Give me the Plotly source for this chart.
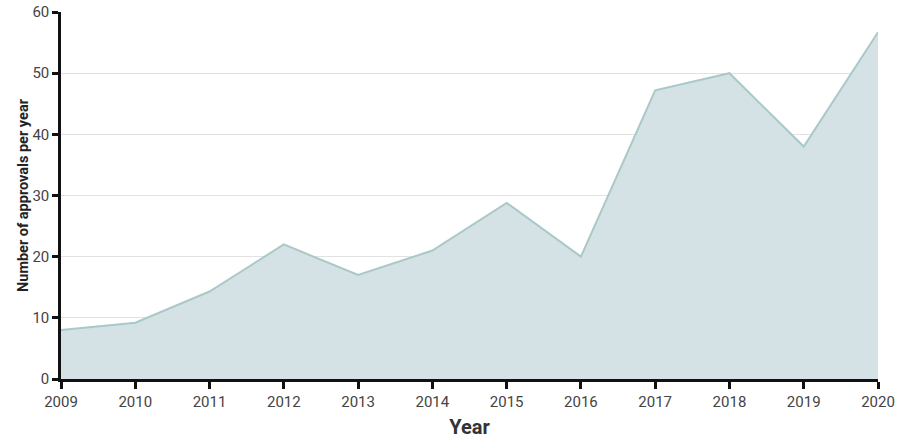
import plotly.graph_objects as go

years = [2009, 2010, 2011, 2012, 2013, 2014, 2015, 2016, 2017, 2018, 2019, 2020]
approvals = [8, 9.2, 14.3, 22, 17, 21, 28.8, 20, 47.2, 50, 38, 56.7]

fig = go.Figure()
fig.add_trace(go.Scatter(
    x=years, y=approvals, mode="lines", fill="tozeroy",
    line=dict(color="#a9c9c7", width=2),
    fillcolor="#d4e2e6",
    hoverinfo="x+y",
))

fig.update_layout(
    width=897, height=439,
    margin=dict(l=61, r=19, t=12, b=60),
    paper_bgcolor="white", plot_bgcolor="white",
    font=dict(family="Roboto, sans-serif", color="#444"),
    showlegend=False,
    xaxis=dict(
        range=[2009, 2020], dtick=1, tick0=2009, automargin=False,
        ticklabeloverflow="allow",
        showgrid=False, showline=True, linecolor="#111", linewidth=2.5,
        ticks="outside", ticklen=7, tickwidth=2.5, tickcolor="#111",
        tickfont=dict(size=15, color="#444"),
        title=dict(text="<b>Year</b>", font=dict(size=20, color="#333"), standoff=11),
        zeroline=False,
    ),
    yaxis=dict(
        range=[0, 60], dtick=10, automargin=False,
        ticklabeloverflow="allow",
        showgrid=True, gridcolor="#e2e2e2", gridwidth=1,
        showline=True, linecolor="#111", linewidth=2.5,
        ticks="outside", ticklen=6, tickwidth=2.5, tickcolor="#111",
        tickfont=dict(size=15, color="#444"),
        title=dict(text="<b>Number of approvals per year</b>", font=dict(size=14.5, color="#222"), standoff=0),
        zeroline=False,
    ),
)

fig.write_html(
    "out.html",
    config={"displayModeBar": False},
    post_script="document.body.style.margin='0';document.body.style.overflow='hidden';",
)
